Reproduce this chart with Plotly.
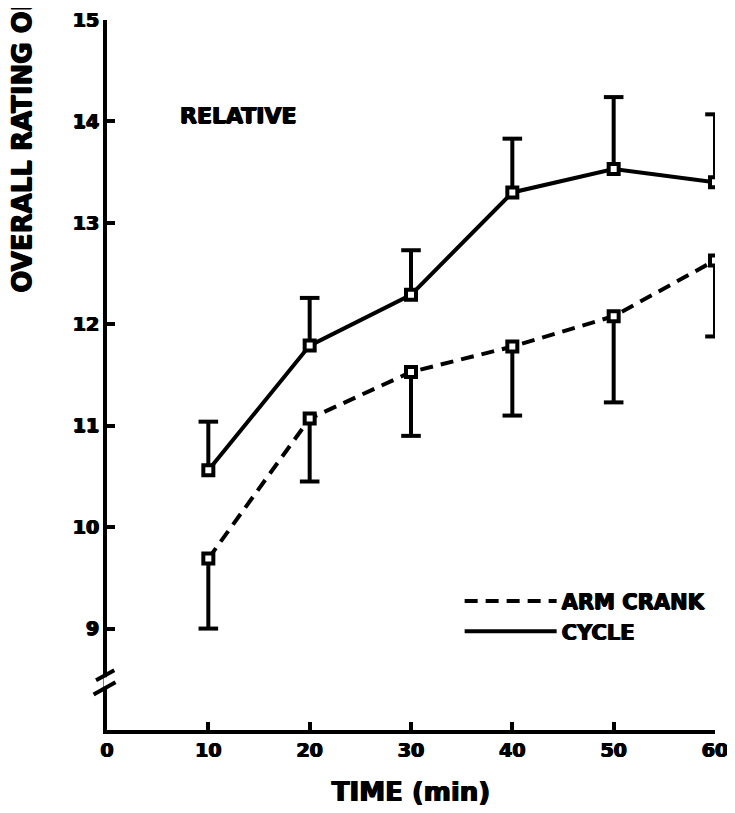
import plotly.graph_objects as go

# ---- data ----
time_min = [10, 20, 30, 40, 50, 60]
cycle_mean = [10.56, 11.79, 12.29, 13.30, 13.53, 13.40]
cycle_sd = [0.48, 0.47, 0.44, 0.53, 0.71, 0.67]
arm_mean = [9.69, 11.07, 11.53, 11.78, 12.08, 12.63]
arm_sd = [0.69, 0.62, 0.63, 0.68, 0.85, 0.75]
x_ticks = [0, 10, 20, 30, 40, 50, 60]
y_ticks = [9, 10, 11, 12, 13, 14, 15]

FONT = "DejaVu Sans"
BLACK = "black"
HEAVY = "0.7px 0 0 black, -0.7px 0 0 black, 0 0.5px 0 black"

fig = go.Figure()

# ARM CRANK (dashed line, error bars downward)
fig.add_trace(go.Scatter(
    x=time_min, y=arm_mean, mode="lines", name="ARM CRANK",
    line=dict(color=BLACK, width=4, dash="13px,8px"),
    error_y=dict(type="data", symmetric=False, array=[0] * len(arm_sd),
                 arrayminus=arm_sd, width=0, thickness=4, color=BLACK),
))
# CYCLE (solid line, error bars upward)
fig.add_trace(go.Scatter(
    x=time_min, y=cycle_mean, mode="lines", name="CYCLE",
    line=dict(color=BLACK, width=4),
    error_y=dict(type="data", symmetric=False, array=cycle_sd,
                 arrayminus=[0] * len(cycle_sd), width=0, thickness=4, color=BLACK),
))
# error bar caps
fig.add_trace(go.Scatter(
    x=time_min, y=[m - s for m, s in zip(arm_mean, arm_sd)], mode="markers",
    showlegend=False, hoverinfo="skip",
    marker=dict(symbol="line-ew", size=14, line=dict(color=BLACK, width=4)),
))
fig.add_trace(go.Scatter(
    x=time_min, y=[m + s for m, s in zip(cycle_mean, cycle_sd)], mode="markers",
    showlegend=False, hoverinfo="skip",
    marker=dict(symbol="line-ew", size=14, line=dict(color=BLACK, width=4)),
))
# open square markers
for ys in (arm_mean, cycle_mean):
    fig.add_trace(go.Scatter(
        x=time_min, y=ys, mode="markers", showlegend=False,
        marker=dict(symbol="square", size=10, color="white",
                    line=dict(color=BLACK, width=4)),
    ))

# axis break marks
shapes = [
    dict(type="line", xref="paper", yref="y", x0=0, x1=0, y0=8.42, y1=8.52,
         line=dict(color="white", width=7), layer="above"),
    dict(type="line", xref="paper", yref="y", x0=-0.022, x1=0.014, y0=8.35, y1=8.47,
         line=dict(color=BLACK, width=4), layer="above"),
    dict(type="line", xref="paper", yref="y", x0=-0.018, x1=0.012, y0=8.49, y1=8.59,
         line=dict(color=BLACK, width=4), layer="above"),
]

annotations = [
    dict(text="<b>RELATIVE</b>", xref="paper", yref="paper", x=0.117, y=0.866,
         xanchor="left", yanchor="middle", showarrow=False,
         font=dict(family=FONT, size=22, color=BLACK, shadow=HEAVY)),
    dict(text="<b>OVERALL RATING OF PERCEIVED EXERTION</b>", xref="paper", yref="paper",
         x=-0.14, y=0.613, xanchor="center", yanchor="bottom", textangle=-90,
         showarrow=False, font=dict(family=FONT, size=26, color=BLACK, shadow=HEAVY)),
]

fig.update_layout(
    width=735, height=813,
    margin=dict(l=99, r=28, t=12, b=91, autoexpand=False),
    paper_bgcolor="white", plot_bgcolor="white",
    font=dict(family=FONT, color=BLACK),
    showlegend=True,
    legend=dict(x=0.58, y=0.21, xanchor="left", yanchor="top",
                bgcolor="rgba(0,0,0,0)", itemwidth=92,
                font=dict(family=FONT, size=21, color=BLACK, weight="bold", shadow=HEAVY),
                tracegroupgap=0),
    shapes=shapes,
    annotations=annotations,
    xaxis=dict(range=[0, 60], tickvals=x_ticks, ticktext=[str(v) for v in x_ticks],
               automargin=False,
               showgrid=False, zeroline=False, showline=True, linecolor=BLACK, linewidth=4,
               ticks="inside", ticklen=8, tickwidth=4, tickcolor=BLACK,
               tickfont=dict(family=FONT, size=19, color=BLACK, weight="bold", shadow=HEAVY),
               title=dict(text="<b>TIME (min)</b>",
                          font=dict(family=FONT, size=26, color=BLACK, shadow=HEAVY),
                          standoff=24)),
    yaxis=dict(range=[8, 15], tickvals=y_ticks, ticktext=[str(v) for v in y_ticks],
               automargin=False,
               showgrid=False, zeroline=False, showline=True, linecolor=BLACK, linewidth=4,
               ticks="inside", ticklen=8, tickwidth=4, tickcolor=BLACK,
               tickfont=dict(family=FONT, size=19, color=BLACK, weight="bold", shadow=HEAVY)),
)

fig.write_html("out.html")
